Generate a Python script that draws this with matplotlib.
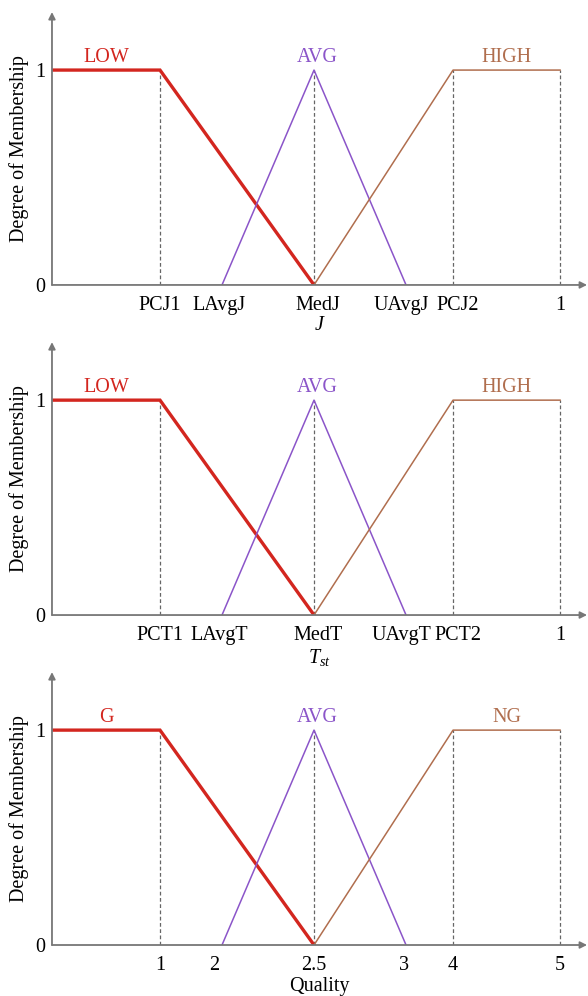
import matplotlib.pyplot as plt
from matplotlib.transforms import ScaledTranslation

plt.rcParams['font.family'] = ['Liberation Serif', 'DejaVu Serif']
plt.rcParams['mathtext.fontset'] = 'custom'
plt.rcParams['mathtext.rm'] = 'Liberation Serif'
plt.rcParams['mathtext.it'] = 'Liberation Serif:italic'

# breakpoint positions along each horizontal axis (shared by all three panels)
pos_low_end = 1.08   # PCJ1 / PCT1 / 1
pos_avg_lo = 1.70    # LAvg / 2
pos_med = 2.62       # Med / 2.5
pos_avg_hi = 3.54    # UAvg / 3
pos_high_start = 4.01  # PCJ2 / PCT2 / 4
pos_end = 5.08       # 1 / 5

tick_pos = [pos_low_end, pos_avg_lo, pos_med, pos_avg_hi, pos_high_start, pos_end]
labels_J = ['PCJ1', 'LAvgJ', 'MedJ', 'UAvgJ', 'PCJ2', '1']
labels_T = ['PCT1', 'LAvgT', 'MedT', 'UAvgT', 'PCT2', '1']
labels_Q = ['1', '2', '2.5', '3', '4', '5']

low_x = [0, pos_low_end, pos_med]
low_y = [1, 1, 0]
avg_x = [pos_avg_lo, pos_med, pos_avg_hi]
avg_y = [0, 1, 0]
high_x = [pos_med, pos_high_start, pos_end]
high_y = [0, 1, 1]

# small sideways nudges (pixels) so neighbouring tick labels don't collide
nudge_text = [0, -3, 4, -5, 5, 0]
nudge_num = [0, -8, 0, -2, 0, 0]

panels = [
    (labels_J, ['LOW', 'AVG', 'HIGH'], '$J$', 0.7139, nudge_text),
    (labels_T, ['LOW', 'AVG', 'HIGH'], '$T_{st}$', 0.3825, nudge_text),
    (labels_Q, ['G', 'AVG', 'NG'], 'Quality', 0.0512, nudge_num),
]

red = '#d3261f'
purple = '#8b55c9'
brown = '#b06e4e'
grey = '#777777'

fig = plt.figure(figsize=(5.88, 9.96), dpi=100)

for tlabels, names, xlab, bottom, nudge in panels:
    ax = fig.add_axes([0.0884, bottom, 0.91, 0.274])
    ax.set_xlim(0, 5.35)
    ax.set_ylim(0, 1.27)

    for x in [pos_low_end, pos_med, pos_high_start, pos_end]:
        ax.plot([x, x], [0, 1], ls=(0, (3, 2)), color='#666666', lw=0.9)

    ax.plot(low_x, low_y, color=red, lw=2.4, solid_joinstyle='miter')
    ax.plot(avg_x, avg_y, color=purple, lw=1.1)
    ax.plot(high_x, high_y, color=brown, lw=1.1)

    ax.text((0 + pos_low_end) / 2, 1.06, names[0], color=red, fontsize=14.5, ha='center', va='center')
    ax.text(pos_med + 0.03, 1.06, names[1], color=purple, fontsize=14.5, ha='center', va='center')
    ax.text((pos_high_start + pos_end) / 2, 1.06, names[2], color=brown, fontsize=14.5, ha='center', va='center')

    for s in ax.spines.values():
        s.set_visible(False)
    ax.annotate('', xy=(1, 0), xytext=(0, 0), xycoords='axes fraction',
                arrowprops=dict(arrowstyle='-|>', color=grey, lw=1.3, mutation_scale=10,
                                shrinkA=0, shrinkB=0))
    ax.annotate('', xy=(0, 1), xytext=(0, 0), xycoords='axes fraction',
                arrowprops=dict(arrowstyle='-|>', color=grey, lw=1.3, mutation_scale=10,
                                shrinkA=0, shrinkB=0))

    ax.set_xticks(tick_pos)
    ax.set_xticklabels(tlabels)
    ax.set_yticks([0, 1])
    ax.set_yticklabels(['0', '1'])
    ax.tick_params(length=0, labelsize=14.5, pad=8)
    ax.tick_params(axis='y', pad=5)
    for lab, dx in zip(ax.get_xticklabels(), nudge):
        lab.set_transform(lab.get_transform() + ScaledTranslation(dx / 100, 0, fig.dpi_scale_trans))
    ax.set_ylabel('Degree of Membership', fontsize=14.5, labelpad=4)
    ax.set_xlabel(xlab, fontsize=14.5, labelpad=1)

fig.savefig('out.png', dpi=100)
